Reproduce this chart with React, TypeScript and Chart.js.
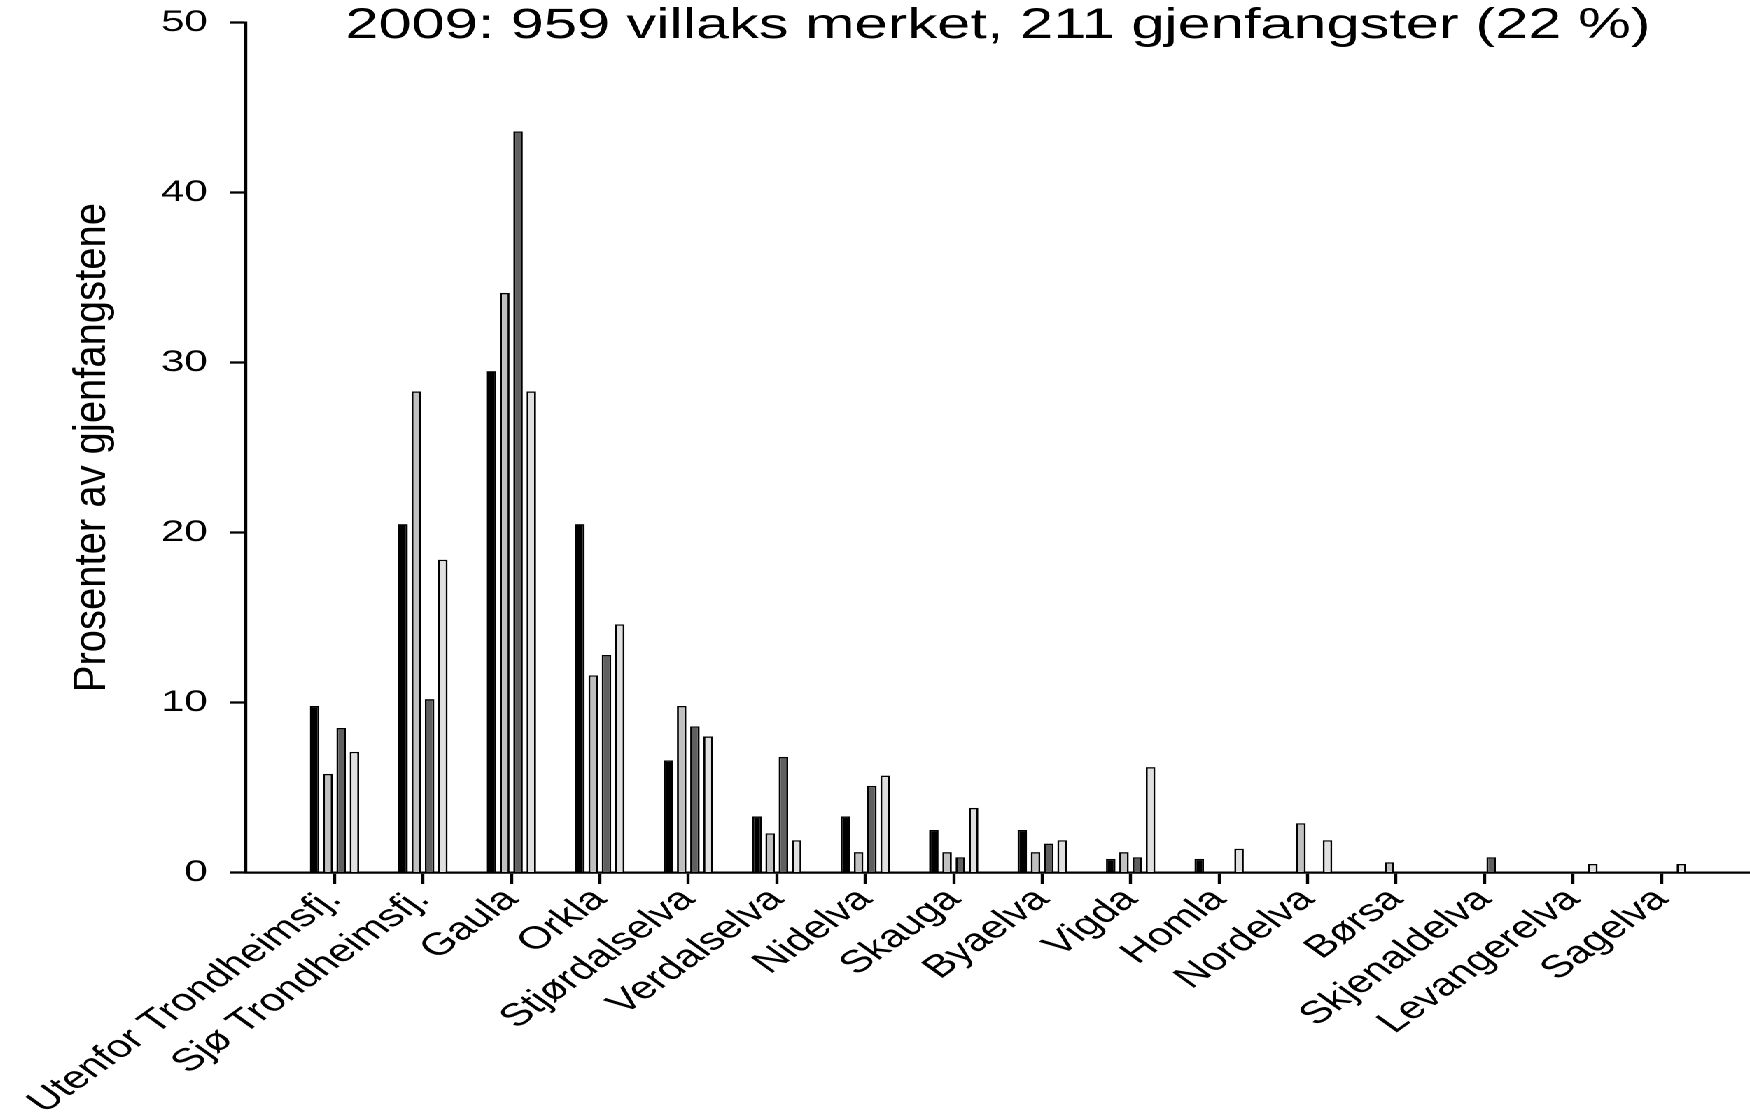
import React, { useEffect, useRef } from 'react';
import { Chart, registerables } from 'chart.js';

Chart.register(...registerables);

// ---- data ----
const categories = [
  'Utenfor Trondheimsfj.',
  'Sjø Trondheimsfj.',
  'Gaula',
  'Orkla',
  'Stjørdalselva',
  'Verdalselva',
  'Nidelva',
  'Skauga',
  'Byaelva',
  'Vigda',
  'Homla',
  'Nordelva',
  'Børsa',
  'Skjenaldelva',
  'Levangerelva',
  'Sagelva',
];

const series1 = [9.8, 20.5, 29.5, 20.5, 6.6, 3.3, 3.3, 2.5, 2.5, 0.8, 0.8, null, null, null, null, null];
const series2 = [5.8, 28.3, 34.1, 11.6, 9.8, 2.3, 1.2, 1.2, 1.2, 1.2, null, 2.9, 0.6, null, null, null];
const series3 = [8.5, 10.2, 43.6, 12.8, 8.6, 6.8, 5.1, 0.9, 1.7, 0.9, null, null, null, 0.9, null, null];
const series4 = [7.1, 18.4, 28.3, 14.6, 8.0, 1.9, 5.7, 3.8, 1.9, 6.2, 1.4, 1.9, null, null, 0.5, 0.5];

const seriesNames = ['Serie 1', 'Serie 2', 'Serie 3', 'Serie 4'];
const seriesColors = ['#000000', '#c0c0c0', '#606060', '#e0e0e0'];

const yMin = 0;
const yMax = 50;
const yStep = 10;

const titleText = '2009: 959 villaks merket, 211 gjenfangster (22 %)';
const yTitleText = 'Prosenter av gjenfangstene';

// ---- layout / style ----
const STRETCH = 1.4;
const FULL_W = 1750;
const FULL_H = 1117;
const CW = FULL_W / STRETCH;
const FONT = "'Liberation Sans', Arial, Helvetica, sans-serif";

const pad = (arr: (number | null)[]) => [null, ...arr, null];

const yTitlePlugin = {
  id: 'yTitleNarrow',
  afterDraw(chart: any) {
    const { ctx, chartArea } = chart;
    ctx.save();
    ctx.translate(75, (chartArea.top + chartArea.bottom) / 2);
    ctx.scale(0.8, 1);
    ctx.rotate(-Math.PI / 2);
    ctx.font = `40px ${FONT}`;
    ctx.fillStyle = '#000';
    ctx.textAlign = 'center';
    ctx.textBaseline = 'alphabetic';
    ctx.fillText(yTitleText, 0, 0);
    ctx.restore();
  },
};

export default function App() {
  const canvasRef = useRef<HTMLCanvasElement | null>(null);

  useEffect(() => {
    if (!canvasRef.current) return;
    const labels = ['', ...categories, ''];
    const lastIdx = labels.length - 1;
    const tickCol = (c: any) => (c.index === 0 || c.index === lastIdx ? 'rgba(0,0,0,0)' : '#000');

    const allSeries = [series1, series2, series3, series4];
    const chart = new Chart(canvasRef.current, {
      type: 'bar',
      data: {
        labels,
        datasets: allSeries.map((s, i) => ({
          label: seriesNames[i],
          data: pad(s),
          backgroundColor: seriesColors[i],
          borderColor: '#000',
          borderWidth: 1.4,
          borderSkipped: 'start',
          categoryPercentage: 0.6,
          barPercentage: 0.715,
        })),
      },
      options: {
        responsive: true,
        maintainAspectRatio: false,
        animation: false,
        devicePixelRatio: 2,
        layout: { padding: 0 },
        plugins: {
          legend: { display: false },
          tooltip: { enabled: false },
          title: {
            display: true,
            text: titleText,
            fullSize: false,
            color: '#000',
            font: { family: FONT, size: 42.5, weight: 'normal', lineHeight: 1.2 },
            padding: { top: 1, bottom: -29.3 },
          },
        },
        scales: {
          x: {
            type: 'category',
            offset: false,
            grid: {
              offset: false,
              display: true,
              drawOnChartArea: false,
              drawTicks: true,
              tickLength: 11.5,
              tickWidth: 2.2,
              color: tickCol,
              tickColor: tickCol,
            },
            border: { display: true, color: '#000', width: 2.3 },
            ticks: {
              autoSkip: false,
              maxRotation: 45,
              minRotation: 45,
              color: '#000',
              padding: -3,
              font: { family: FONT, size: 31.5 },
            },
            afterFit: (s: any) => {
              s.height = FULL_H - 872.5;
              s.paddingLeft = 0;
              s.paddingRight = 0;
            },
          },
          y: {
            min: yMin,
            max: yMax,
            ticks: {
              stepSize: yStep,
              color: '#000',
              padding: 16,
              font: { family: FONT, size: 30 },
            },
            grid: {
              display: true,
              drawOnChartArea: false,
              drawTicks: true,
              tickLength: 11.4,
              tickWidth: 2.3,
              color: '#000',
            },
            border: { display: true, color: '#000', width: 2.1 },
            afterFit: (s: any) => {
              s.width = 246 / STRETCH;
              s.paddingTop = 0;
              s.paddingBottom = 0;
            },
          },
        },
      },
      plugins: [yTitlePlugin],
    } as any);
    return () => chart.destroy();
  }, []);

  return (
    <div
      style={{
        position: 'absolute',
        left: 0,
        top: 0,
        width: CW,
        height: FULL_H,
        transform: `scaleX(${STRETCH})`,
        transformOrigin: '0 0',
        background: '#fff',
      }}
    >
      <div style={{ position: 'relative', width: CW, height: FULL_H }}>
        <canvas ref={canvasRef} />
      </div>
    </div>
  );
}
